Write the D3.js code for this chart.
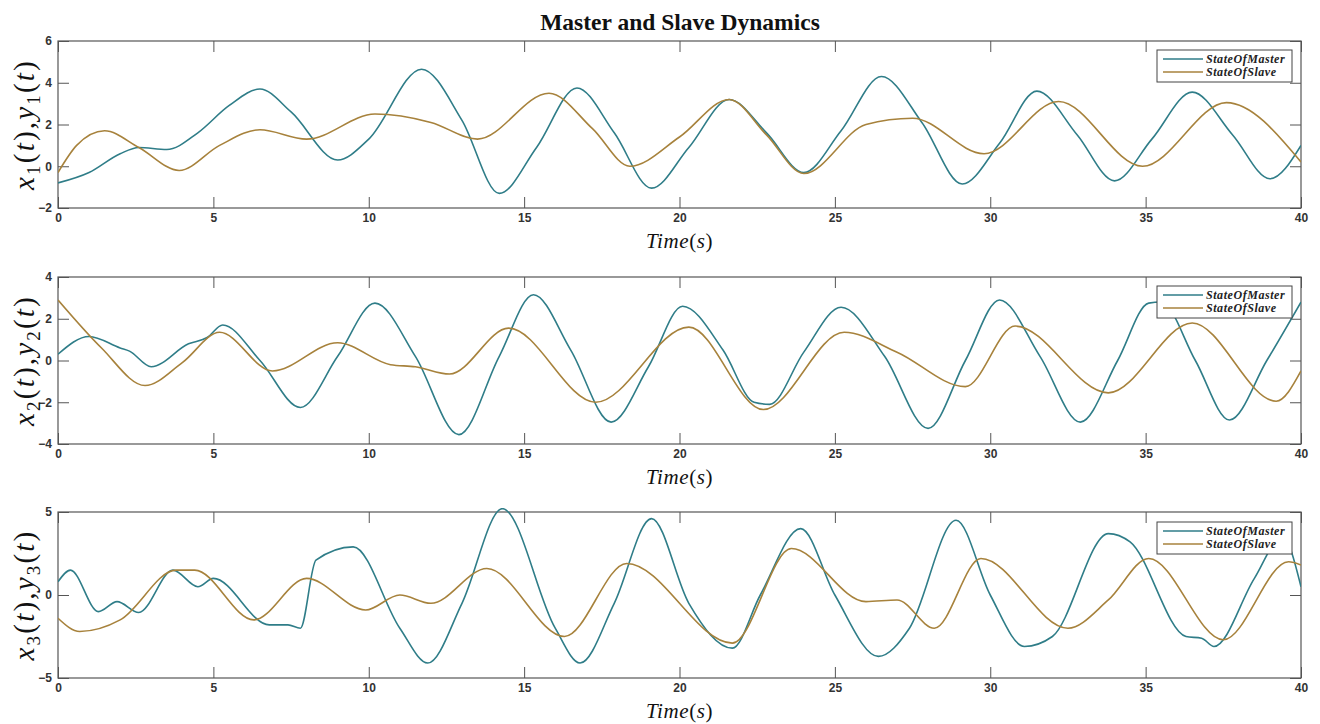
<!DOCTYPE html>
<html><head><meta charset="utf-8">
<script src="https://cdn.jsdelivr.net/npm/d3@7"></script>
<style>
body{margin:0;background:#fff;}
svg{display:block;}
</style></head>
<body><svg id="c" width="1320" height="724"></svg>
<script>
// ---- data (time in s, value) ----
const master1 = [[0,-0.8],[1,-0.3],[2,0.6],[2.6,0.9],[3.5,0.8],[4.5,1.6],[5.5,2.9],[6.5,3.7],[7.5,2.6],[9,0.3],[10,1.3],[11.7,4.65],[13,2.2],[14.2,-1.3],[15.4,0.9],[16.7,3.75],[17.9,1.6],[19.1,-1.05],[20.3,0.9],[21.6,3.2],[22.8,1.6],[24,-0.3],[25.2,1.7],[26.5,4.3],[27.8,2.1],[29.1,-0.85],[30.3,1.1],[31.5,3.6],[32.8,1.5],[34,-0.7],[35.2,1.3],[36.5,3.55],[37.8,1.5],[39,-0.6],[40,1.0]];
const slave1 = [[0,-0.3],[0.6,1.0],[1.5,1.7],[2.6,0.9],[3.9,-0.2],[5.2,1.0],[6.5,1.75],[8,1.3],[10.2,2.5],[12,2.1],[13.5,1.3],[15.8,3.5],[17.2,1.8],[18.4,0.0],[20,1.4],[21.6,3.2],[22.8,1.5],[24,-0.35],[26,2.0],[27.5,2.3],[29.8,0.6],[32.2,3.1],[34.9,0.0],[37.6,3.05],[40,0.2]];
const master2 = [[0,0.3],[1,1.15],[2,0.6],[2.3,0.45],[3,-0.3],[4.2,0.8],[4.8,1.1],[5.3,1.7],[6.5,0.0],[7.8,-2.25],[9,0.2],[10.2,2.75],[11.5,0.2],[12.9,-3.55],[14.2,0.2],[15.3,3.15],[16.5,0.5],[17.8,-2.95],[19,-0.3],[20.1,2.6],[21.4,0.5],[22.4,-2.0],[22.9,-2.1],[24,0.4],[25.2,2.55],[26.6,0.2],[28,-3.25],[29.2,0.0],[30.3,2.9],[31.6,0.2],[32.9,-2.95],[34.1,0.0],[35.1,2.75],[35.5,2.8],[36.6,0.0],[37.7,-2.85],[38.9,0.0],[40,2.8]];
const slave2 = [[0,2.9],[1.4,0.6],[2.8,-1.2],[4,-0.1],[5.2,1.35],[6.9,-0.5],[9,0.85],[10.7,-0.2],[11.5,-0.3],[12.6,-0.65],[14.5,1.55],[17.3,-2.0],[20.3,1.6],[22.7,-2.35],[25.3,1.35],[27,0.4],[29.2,-1.25],[30.8,1.65],[33.8,-1.55],[36.5,1.8],[39.2,-1.95],[40,-0.5]];
const master3 = [[0,0.8],[0.4,1.5],[1.3,-1.0],[1.9,-0.4],[2.6,-1.05],[3.7,1.5],[4.5,0.5],[5,1.0],[6.8,-1.8],[7.4,-1.8],[7.8,-2.0],[8.3,2.1],[9.5,2.9],[11,-2.0],[11.9,-4.1],[13,-0.5],[14.3,5.2],[16,-2.0],[16.8,-4.1],[17.9,-0.5],[19.1,4.6],[20.3,-0.5],[21.7,-3.2],[22.6,0.0],[23.9,4.0],[25,0.0],[26.4,-3.7],[27.4,-2.0],[28.9,4.5],[30,0.0],[31.1,-3.1],[32,-2.5],[33.8,3.7],[34.5,3.2],[36.3,-2.5],[36.8,-2.6],[37.2,-3.1],[38.5,1.0],[39.4,3.5],[40,0.5]];
const slave3 = [[0,-1.4],[0.7,-2.2],[2,-1.5],[3.8,1.5],[4.4,1.5],[6.3,-1.5],[8,1.0],[9.9,-0.9],[11,0.0],[12,-0.5],[13.8,1.6],[16.3,-2.5],[18.3,1.9],[21.7,-2.9],[23.6,2.8],[26,-0.4],[27,-0.3],[28.2,-2.0],[29.7,2.2],[32.5,-2.0],[33.8,-0.3],[35.1,2.2],[37.5,-2.7],[39.6,2.0],[40,1.8]];

const xTicks = [0,5,10,15,20,25,30,35,40];
const yTicks1 = [-2,0,2,4,6];
const yTicks2 = [-4,-2,0,2,4];
const yTicks3 = [-5,0,5];
const legendLabels = ["StateOfMaster","StateOfSlave"];
const subs = ["1","2","3"];

const cMaster = "#2f7d88", cSlave = "#a7823c";
const svg = d3.select("#c");

svg.append("text").attr("x",680).attr("y",30).attr("text-anchor","middle")
  .attr("font-family","'Liberation Serif',serif").attr("font-weight","bold")
  .attr("font-size",23.5).attr("fill","#111").text("Master and Slave Dynamics");

const panels = [
  {m:master1,s:slave1,dom:[-2,6],yt:yTicks1,top:41,bot:208,leg:50},
  {m:master2,s:slave2,dom:[-4,4],yt:yTicks2,top:277,bot:444,leg:286},
  {m:master3,s:slave3,dom:[-5,5],yt:yTicks3,top:512,bot:678,leg:522}
];
const L=58,R=1301;
const x = d3.scaleLinear().domain([0,40]).range([L,R]);

panels.forEach((p,i)=>{
  const y = d3.scaleLinear().domain(p.dom).range([p.bot,p.top]);
  const g = svg.append("g");
  const clipId="clip"+i;
  g.append("clipPath").attr("id",clipId).append("rect")
    .attr("x",L).attr("y",p.top-4).attr("width",R-L).attr("height",p.bot-p.top+4);
  const tk = 11;
  const ax = g.append("g").attr("transform",`translate(0,${p.bot})`)
    .call(d3.axisBottom(x).tickValues(xTicks).tickSizeInner(-tk).tickSizeOuter(0).tickPadding(5));
  const axT = g.append("g").attr("transform",`translate(0,${p.top})`)
    .call(d3.axisTop(x).tickValues(xTicks).tickSizeInner(-tk).tickSizeOuter(0).tickFormat(""));
  const ay = g.append("g").attr("transform",`translate(${L},0)`)
    .call(d3.axisLeft(y).tickValues(p.yt).tickSizeInner(-tk).tickSizeOuter(0).tickPadding(6).tickFormat(d=>d<0?"\u2212"+Math.abs(d):d));
  const ayR = g.append("g").attr("transform",`translate(${R},0)`)
    .call(d3.axisRight(y).tickValues(p.yt).tickSizeInner(-tk).tickSizeOuter(0).tickFormat(""));
  [ax,axT,ay,ayR].forEach(a=>{
    a.select(".domain").remove();
    a.selectAll("line").attr("stroke","#555").attr("stroke-width",1);
    a.selectAll("text").attr("font-family","'Liberation Sans',Arial,sans-serif")
      .attr("font-weight","bold").attr("font-size",12).attr("fill","#333");
  });
  g.append("rect").attr("x",L).attr("y",p.top).attr("width",R-L).attr("height",p.bot-p.top)
    .attr("fill","none").attr("stroke","#555").attr("stroke-width",1.2);

  const line = d3.line().x(d=>x(d[0])).y(d=>y(d[1])).curve(d3.curveMonotoneX);
  const lg = g.append("g").attr("clip-path",`url(#${clipId})`);
  lg.append("path").datum(p.m).attr("d",line).attr("fill","none").attr("stroke",cMaster).attr("stroke-width",1.6);
  lg.append("path").datum(p.s).attr("d",line).attr("fill","none").attr("stroke",cSlave).attr("stroke-width",1.6);

  // x label
  const xl = g.append("text").attr("x",(L+R)/2).attr("y",p.bot+40).attr("text-anchor","middle")
    .attr("font-family","'Liberation Serif',serif").attr("font-size",21).attr("letter-spacing",0.6).attr("fill","#111");
  xl.append("tspan").attr("font-style","italic").text("Time");
  xl.append("tspan").text("(");
  xl.append("tspan").attr("font-style","italic").text("s");
  xl.append("tspan").text(")");

  // y label
  const cy=(p.top+p.bot)/2;
  const yl = g.append("text").attr("transform",`translate(34,${cy}) rotate(-90)`).attr("text-anchor","middle")
    .attr("font-family","'Liberation Serif',serif").attr("font-size",29).attr("letter-spacing",2.2).attr("fill","#111");
  yl.append("tspan").attr("font-style","italic").text("x");
  yl.append("tspan").attr("font-size",19).attr("dy",6).text(subs[i]);
  yl.append("tspan").attr("dy",-6).text("(");
  yl.append("tspan").attr("font-style","italic").text("t");
  yl.append("tspan").text("),");
  yl.append("tspan").attr("font-style","italic").text("y");
  yl.append("tspan").attr("font-size",19).attr("dy",6).text(subs[i]);
  yl.append("tspan").attr("dy",-6).text("(");
  yl.append("tspan").attr("font-style","italic").text("t");
  yl.append("tspan").text(")");

  // legend
  const lgx=1157, lgw=135, lgh=32;
  const leg = g.append("g").attr("transform",`translate(${lgx},${p.leg})`);
  leg.append("rect").attr("width",lgw).attr("height",lgh).attr("fill","#fff").attr("stroke","#444").attr("stroke-width",1);
  legendLabels.forEach((lab,j)=>{
    const yy=9+j*13;
    leg.append("line").attr("x1",6).attr("x2",46).attr("y1",yy).attr("y2",yy)
      .attr("stroke",j===0?cMaster:cSlave).attr("stroke-width",1.6);
    leg.append("text").attr("x",49).attr("y",yy+4).attr("font-family","'Liberation Serif',serif")
      .attr("font-style","italic").attr("font-weight","bold").attr("font-size",12).attr("letter-spacing",0.55).attr("fill","#222").text(lab);
  });
});
</script></body></html>
